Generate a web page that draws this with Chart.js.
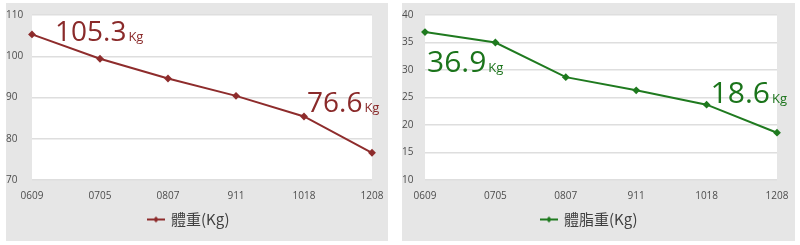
<!DOCTYPE html>
<html>
<head>
<meta charset="utf-8">
<script src="https://cdn.jsdelivr.net/npm/chart.js@4"></script>
<style>
    html, body { margin: 0; padding: 0; background: #fff; }
    body { width: 800px; height: 245px; position: relative; overflow: hidden; }
    .panel { position: absolute; top: 3px; height: 238px; background: #e6e6e6; }
    #weightPanel { left: 6px; width: 382px; }
    #fatPanel { left: 402px; width: 393px; }
</style>
</head>
<body>
<div class="panel" id="weightPanel"><canvas id="weightChart" width="382" height="238"></canvas></div>
<div class="panel" id="fatPanel"><canvas id="fatChart" width="393" height="238"></canvas></div>
<script>
const dates = ['0609', '0705', '0807', '911', '1018', '1208'];
const weightValues = [105.3, 99.4, 94.6, 90.4, 85.4, 76.6];
const fatValues = [36.9, 35.0, 28.7, 26.3, 23.7, 18.6];
const weightTicks = [70, 80, 90, 100, 110];
const fatTicks = [10, 15, 20, 25, 30, 35, 40];

const tickColor = '#4d4d4d';
const gridColor = '#dedede';
const tickFont = { family: '"Open Sans", "Noto Sans", sans-serif', size: 10 };

// legend marker: short line with a dot in the middle
function legendMarker(color) {
    const c = document.createElement('canvas');
    c.width = 18;
    c.height = 8;
    const ctx = c.getContext('2d');
    ctx.strokeStyle = color;
    ctx.lineWidth = 2;
    ctx.beginPath();
    ctx.moveTo(0, 4);
    ctx.lineTo(18, 4);
    ctx.stroke();
    ctx.fillStyle = color;
    ctx.beginPath();
    ctx.moveTo(9, 1);
    ctx.lineTo(12, 4);
    ctx.lineTo(9, 7);
    ctx.lineTo(6, 4);
    ctx.closePath();
    ctx.fill();
    return c;
}

const plotBackground = {
    id: 'plotBackground',
    beforeDraw(chart) {
        const { ctx, chartArea } = chart;
        ctx.save();
        ctx.fillStyle = '#ffffff';
        ctx.fillRect(chartArea.left, chartArea.top, chartArea.right - chartArea.left, chartArea.bottom - chartArea.top);
        ctx.restore();
    },
};

// big value callouts, placed relative to a data point
const callouts = {
    id: 'callouts',
    afterDatasetsDraw(chart, args, opts) {
        const { ctx } = chart;
        const meta = chart.getDatasetMeta(0);
        opts.items.forEach((item) => {
            const pt = meta.data[item.anchor];
            const x = pt.x + item.dx;
            const y = pt.y + item.dy;
            ctx.save();
            ctx.fillStyle = opts.color;
            ctx.textBaseline = 'alphabetic';
            ctx.textAlign = 'left';
            ctx.font = `${opts.size}px "Open Sans", "Noto Sans", sans-serif`;
            ctx.fillText(item.text, x, y);
            const w = ctx.measureText(item.text).width;
            ctx.font = '13px "Open Sans", "Noto Sans", sans-serif';
            ctx.fillText('Kg', x + w + 2, y);
            ctx.restore();
        });
    },
};

function makeChart(canvas, cfg) {
    return new Chart(canvas, {
        type: 'line',
        data: {
            labels: dates,
            datasets: [{
                label: cfg.label,
                data: cfg.values,
                borderColor: cfg.color,
                backgroundColor: cfg.color,
                borderWidth: 2,
                pointStyle: 'rectRot',
                pointRadius: 2.5,
                tension: 0,
            }],
        },
        options: {
            responsive: false,
            animation: false,
            layout: { padding: { left: 0, right: cfg.padRight, top: 12, bottom: 4 } },
            plugins: {
                tooltip: { enabled: false },
                legend: {
                    position: 'bottom',
                    labels: {
                        usePointStyle: true,
                        pointStyle: legendMarker(cfg.color),
                        color: '#404040',
                        padding: 10,
                        font: { family: '"Noto Sans CJK TC", "Open Sans", sans-serif', size: 15 },
                    },
                },
                callouts: { color: cfg.textColor, size: cfg.textSize, items: cfg.callouts },
            },
            scales: {
                x: {
                    grid: { display: false },
                    border: { display: false },
                    ticks: { color: tickColor, font: tickFont, padding: 2, maxRotation: 0, autoSkip: false },
                    afterFit: (axis) => { axis.height = 22; },
                },
                y: {
                    min: cfg.ticks[0],
                    max: cfg.ticks[cfg.ticks.length - 1],
                    afterBuildTicks: (axis) => { axis.ticks = cfg.ticks.map((v) => ({ value: v })); },
                    grid: { color: gridColor, lineWidth: 1.5, drawTicks: false },
                    border: { display: false },
                    ticks: { color: tickColor, font: tickFont, crossAlign: 'far', padding: 0 },
                    afterFit: (axis) => { axis.width = cfg.axisWidth; },
                },
            },
        },
        plugins: [plotBackground, callouts],
    });
}

makeChart(document.getElementById('weightChart'), {
    label: '體重(Kg)',
    values: weightValues,
    ticks: weightTicks,
    color: '#8e2c2c',
    textColor: '#8a2a2a',
    textSize: 28,
    axisWidth: 26,
    padRight: 16,
    callouts: [
        { anchor: 0, dx: 23, dy: 7, text: weightValues[0].toFixed(1) },
        { anchor: 4, dx: 3, dy: -4, text: weightValues[5].toFixed(1) },
    ],
});

makeChart(document.getElementById('fatChart'), {
    label: '體脂重(Kg)',
    values: fatValues,
    ticks: fatTicks,
    color: '#1f7a1f',
    textColor: '#1b741b',
    textSize: 30,
    axisWidth: 23,
    padRight: 18,
    callouts: [
        { anchor: 0, dx: 2, dy: 40, text: fatValues[0].toFixed(1) },
        { anchor: 4, dx: 4, dy: -2, text: fatValues[5].toFixed(1) },
    ],
});
</script>
</body>
</html>
